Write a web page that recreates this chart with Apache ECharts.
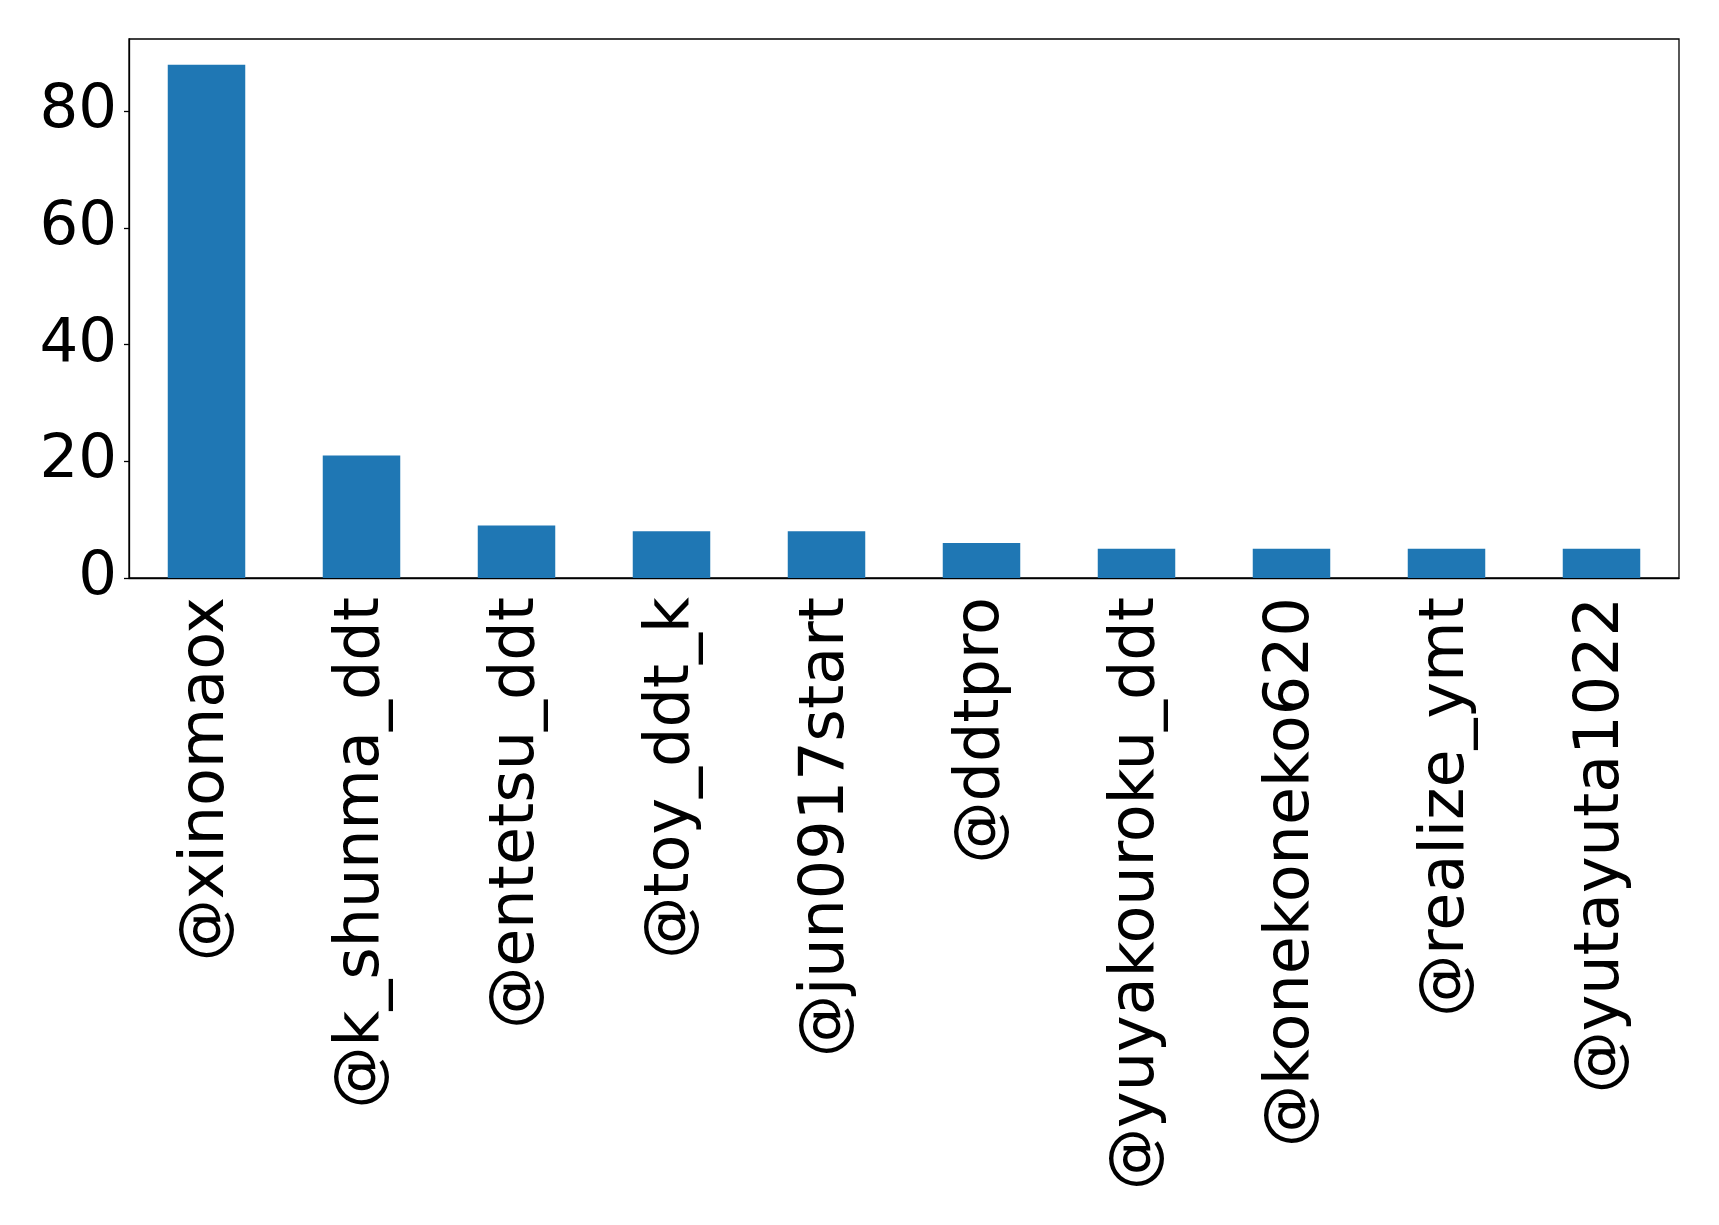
<!DOCTYPE html>
<html>
<head>
<meta charset="utf-8">
<script src="https://cdn.jsdelivr.net/npm/echarts@6/dist/echarts.min.js"></script>
<style>
html,body{margin:0;padding:0;background:#fff;}
#chart{width:1719px;height:1225px;}
</style>
</head>
<body>
<div id="chart"></div>
<script>
const categories = ['@xinomaox','@k_shunma_ddt','@entetsu_ddt','@toy_ddt_k','@jun0917start','@ddtpro','@yuyakouroku_ddt','@konekoneko620','@realize_ymt','@yutayuta1022'];
const counts = [88, 21, 9, 8, 8, 6, 5, 5, 5, 5];
const yTicks = [0, 20, 40, 60, 80];

const chart = echarts.init(document.getElementById('chart'));
const font = 'DejaVu Sans';
chart.setOption({
  animation: false,
  backgroundColor: '#fff',
  grid: {left: 129, top: 39, right: 40, bottom: 647, show: true, borderColor: '#000', borderWidth: 1.3, backgroundColor: 'transparent'},
  xAxis: {
    type: 'category',
    data: categories,
    boundaryGap: true,
    axisLine: {lineStyle: {color: '#000', width: 1.3}},
    axisTick: {alignWithLabel: true, length: 5, lineStyle: {color: '#000', width: 1.3}},
    axisLabel: {rotate: 90, interval: 0, margin: 19, color: '#000', fontSize: 62, fontFamily: font}
  },
  yAxis: {
    type: 'value',
    min: 0,
    max: 92.4,
    splitLine: {show: false},
    axisLine: {show: true, lineStyle: {color: '#000', width: 1.3}},
    axisTick: {show: true, length: 5, customValues: yTicks, lineStyle: {color: '#000', width: 1.3}},
    axisLabel: {customValues: yTicks, margin: 12, color: '#000', fontSize: 61, fontFamily: font}
  },
  series: [{
    type: 'bar',
    data: counts,
    barWidth: '50%',
    itemStyle: {color: '#1f77b4'}
  }]
});
</script>
</body>
</html>
